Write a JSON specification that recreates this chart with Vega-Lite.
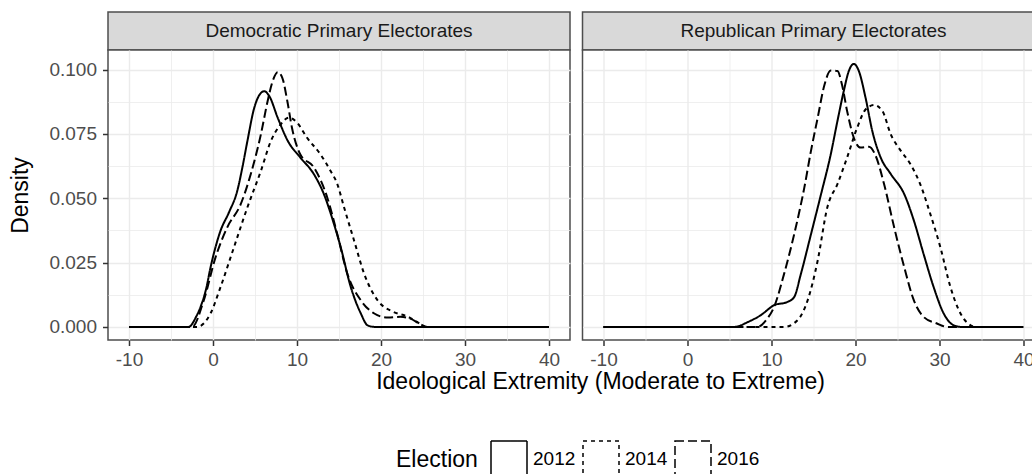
{
  "$schema": "https://vega.github.io/schema/vega-lite/v6.json",
  "padding": {"left": 9, "top": 11, "right": 0, "bottom": 0},
  "background": "white",
  "config": {
    "font": "Liberation Sans",
    "axis": {"labelFontSize": 19, "labelColor": "#4D4D4D", "titleFontSize": 23, "titleFontWeight": "normal", "titleColor": "black", "tickColor": "#333333", "tickWidth": 1.5, "tickSize": 5.5, "domain": false, "gridColor": "#EBEBEB", "labelOverlap": false, "labelFlush": false},
    "legend": {"labelFontSize": 19, "labelColor": "black", "titleFontSize": 23, "titleFontWeight": "normal", "titleColor": "black"}
  },
  "datasets": {
    "curves": [
      {"p":"D","yr":"2012","x":-10,"d":0},{"p":"D","yr":"2012","x":-2.9,"d":0},{"p":"D","yr":"2012","x":-2.0,"d":0.004},{"p":"D","yr":"2012","x":-1.4,"d":0.0085},{"p":"D","yr":"2012","x":-0.8,"d":0.015},{"p":"D","yr":"2012","x":-0.3,"d":0.023},{"p":"D","yr":"2012","x":0.3,"d":0.031},{"p":"D","yr":"2012","x":0.9,"d":0.0374},{"p":"D","yr":"2012","x":1.9,"d":0.0445},{"p":"D","yr":"2012","x":2.9,"d":0.053},{"p":"D","yr":"2012","x":3.5,"d":0.062},{"p":"D","yr":"2012","x":4.1,"d":0.0723},{"p":"D","yr":"2012","x":4.9,"d":0.085},{"p":"D","yr":"2012","x":5.5,"d":0.09},{"p":"D","yr":"2012","x":6.1,"d":0.0916},{"p":"D","yr":"2012","x":6.7,"d":0.0897},{"p":"D","yr":"2012","x":7.7,"d":0.0813},{"p":"D","yr":"2012","x":8.9,"d":0.0723},{"p":"D","yr":"2012","x":10.4,"d":0.0658},{"p":"D","yr":"2012","x":12.0,"d":0.0594},{"p":"D","yr":"2012","x":13.2,"d":0.0516},{"p":"D","yr":"2012","x":14.4,"d":0.04},{"p":"D","yr":"2012","x":15.2,"d":0.031},{"p":"D","yr":"2012","x":16.4,"d":0.0155},{"p":"D","yr":"2012","x":17.6,"d":0.0052},{"p":"D","yr":"2012","x":18.4,"d":0.0006},{"p":"D","yr":"2012","x":19.2,"d":0},{"p":"D","yr":"2012","x":40,"d":0},
      {"p":"D","yr":"2014","x":-10,"d":0},{"p":"D","yr":"2014","x":-1.9,"d":0},{"p":"D","yr":"2014","x":-0.3,"d":0.0052},{"p":"D","yr":"2014","x":0.9,"d":0.0155},{"p":"D","yr":"2014","x":2.5,"d":0.031},{"p":"D","yr":"2014","x":4.1,"d":0.0465},{"p":"D","yr":"2014","x":5.7,"d":0.0606},{"p":"D","yr":"2014","x":6.9,"d":0.0723},{"p":"D","yr":"2014","x":7.9,"d":0.078},{"p":"D","yr":"2014","x":9.05,"d":0.0813},{"p":"D","yr":"2014","x":10.0,"d":0.0794},{"p":"D","yr":"2014","x":11.2,"d":0.0735},{"p":"D","yr":"2014","x":12.8,"d":0.067},{"p":"D","yr":"2014","x":14.0,"d":0.0606},{"p":"D","yr":"2014","x":14.8,"d":0.0555},{"p":"D","yr":"2014","x":15.6,"d":0.0465},{"p":"D","yr":"2014","x":16.8,"d":0.0335},{"p":"D","yr":"2014","x":18.0,"d":0.0206},{"p":"D","yr":"2014","x":19.6,"d":0.0103},{"p":"D","yr":"2014","x":21.5,"d":0.0058},{"p":"D","yr":"2014","x":23.1,"d":0.0041},{"p":"D","yr":"2014","x":24.3,"d":0.0019},{"p":"D","yr":"2014","x":25.3,"d":0},{"p":"D","yr":"2014","x":40,"d":0},
      {"p":"D","yr":"2016","x":-10,"d":0},{"p":"D","yr":"2016","x":-2.5,"d":0},{"p":"D","yr":"2016","x":-1.1,"d":0.0103},{"p":"D","yr":"2016","x":0.3,"d":0.027},{"p":"D","yr":"2016","x":1.7,"d":0.0387},{"p":"D","yr":"2016","x":3.3,"d":0.0477},{"p":"D","yr":"2016","x":4.5,"d":0.0594},{"p":"D","yr":"2016","x":5.7,"d":0.0748},{"p":"D","yr":"2016","x":6.5,"d":0.0877},{"p":"D","yr":"2016","x":7.1,"d":0.0955},{"p":"D","yr":"2016","x":7.7,"d":0.099},{"p":"D","yr":"2016","x":8.25,"d":0.0968},{"p":"D","yr":"2016","x":8.85,"d":0.0877},{"p":"D","yr":"2016","x":9.4,"d":0.0774},{"p":"D","yr":"2016","x":10.4,"d":0.067},{"p":"D","yr":"2016","x":12.0,"d":0.062},{"p":"D","yr":"2016","x":13.6,"d":0.0503},{"p":"D","yr":"2016","x":14.8,"d":0.036},{"p":"D","yr":"2016","x":16.0,"d":0.0206},{"p":"D","yr":"2016","x":17.6,"d":0.0103},{"p":"D","yr":"2016","x":19.2,"d":0.0052},{"p":"D","yr":"2016","x":20.8,"d":0.0036},{"p":"D","yr":"2016","x":22.3,"d":0.0039},{"p":"D","yr":"2016","x":23.5,"d":0.0032},{"p":"D","yr":"2016","x":24.7,"d":0.001},{"p":"D","yr":"2016","x":25.5,"d":0},{"p":"D","yr":"2016","x":40,"d":0},
      {"p":"R","yr":"2012","x":-10,"d":0},{"p":"R","yr":"2012","x":5.6,"d":0},{"p":"R","yr":"2012","x":7.2,"d":0.0019},{"p":"R","yr":"2012","x":8.7,"d":0.0045},{"p":"R","yr":"2012","x":10.3,"d":0.0084},{"p":"R","yr":"2012","x":11.9,"d":0.0097},{"p":"R","yr":"2012","x":12.7,"d":0.0116},{"p":"R","yr":"2012","x":13.5,"d":0.0206},{"p":"R","yr":"2012","x":14.7,"d":0.036},{"p":"R","yr":"2012","x":15.9,"d":0.0516},{"p":"R","yr":"2012","x":17.05,"d":0.067},{"p":"R","yr":"2012","x":17.85,"d":0.08},{"p":"R","yr":"2012","x":18.6,"d":0.0916},{"p":"R","yr":"2012","x":19.2,"d":0.0994},{"p":"R","yr":"2012","x":19.8,"d":0.1022},{"p":"R","yr":"2012","x":20.4,"d":0.0994},{"p":"R","yr":"2012","x":21.2,"d":0.089},{"p":"R","yr":"2012","x":22.0,"d":0.0761},{"p":"R","yr":"2012","x":23.0,"d":0.0658},{"p":"R","yr":"2012","x":24.2,"d":0.0594},{"p":"R","yr":"2012","x":25.8,"d":0.0516},{"p":"R","yr":"2012","x":26.95,"d":0.0413},{"p":"R","yr":"2012","x":28.1,"d":0.0284},{"p":"R","yr":"2012","x":29.3,"d":0.0155},{"p":"R","yr":"2012","x":30.5,"d":0.0052},{"p":"R","yr":"2012","x":31.7,"d":0.0006},{"p":"R","yr":"2012","x":32.5,"d":0},{"p":"R","yr":"2012","x":40,"d":0},
      {"p":"R","yr":"2014","x":-10,"d":0},{"p":"R","yr":"2014","x":11.5,"d":0},{"p":"R","yr":"2014","x":13.1,"d":0.0026},{"p":"R","yr":"2014","x":14.3,"d":0.0103},{"p":"R","yr":"2014","x":15.5,"d":0.0258},{"p":"R","yr":"2014","x":16.65,"d":0.0465},{"p":"R","yr":"2014","x":17.85,"d":0.0555},{"p":"R","yr":"2014","x":19.0,"d":0.0658},{"p":"R","yr":"2014","x":20.2,"d":0.0774},{"p":"R","yr":"2014","x":21.2,"d":0.0845},{"p":"R","yr":"2014","x":22.2,"d":0.0862},{"p":"R","yr":"2014","x":23.2,"d":0.0839},{"p":"R","yr":"2014","x":24.2,"d":0.0748},{"p":"R","yr":"2014","x":25.4,"d":0.0684},{"p":"R","yr":"2014","x":26.55,"d":0.0632},{"p":"R","yr":"2014","x":27.7,"d":0.0555},{"p":"R","yr":"2014","x":28.9,"d":0.0439},{"p":"R","yr":"2014","x":30.1,"d":0.031},{"p":"R","yr":"2014","x":31.3,"d":0.0155},{"p":"R","yr":"2014","x":32.5,"d":0.0052},{"p":"R","yr":"2014","x":33.7,"d":0.0006},{"p":"R","yr":"2014","x":34.3,"d":0},{"p":"R","yr":"2014","x":40,"d":0},
      {"p":"R","yr":"2016","x":-10,"d":0},{"p":"R","yr":"2016","x":8.3,"d":0},{"p":"R","yr":"2016","x":9.5,"d":0.0032},{"p":"R","yr":"2016","x":10.3,"d":0.0077},{"p":"R","yr":"2016","x":11.5,"d":0.0206},{"p":"R","yr":"2016","x":12.7,"d":0.036},{"p":"R","yr":"2016","x":13.9,"d":0.054},{"p":"R","yr":"2016","x":14.7,"d":0.0684},{"p":"R","yr":"2016","x":15.5,"d":0.0813},{"p":"R","yr":"2016","x":16.3,"d":0.094},{"p":"R","yr":"2016","x":17.05,"d":0.0996},{"p":"R","yr":"2016","x":17.85,"d":0.0994},{"p":"R","yr":"2016","x":18.4,"d":0.094},{"p":"R","yr":"2016","x":19.0,"d":0.0839},{"p":"R","yr":"2016","x":19.8,"d":0.0735},{"p":"R","yr":"2016","x":20.6,"d":0.0697},{"p":"R","yr":"2016","x":21.6,"d":0.07},{"p":"R","yr":"2016","x":22.4,"d":0.0665},{"p":"R","yr":"2016","x":23.4,"d":0.0555},{"p":"R","yr":"2016","x":24.6,"d":0.0387},{"p":"R","yr":"2016","x":25.8,"d":0.0232},{"p":"R","yr":"2016","x":26.95,"d":0.0103},{"p":"R","yr":"2016","x":28.1,"d":0.0039},{"p":"R","yr":"2016","x":29.7,"d":0.0013},{"p":"R","yr":"2016","x":30.9,"d":0},{"p":"R","yr":"2016","x":40,"d":0}
    ]
  },
  "columns": 2,
  "spacing": {"row": 0, "column": 12.5},
  "bounds": "flush",
  "concat": [
    {
      "data": {"values": [{"label": "Democratic Primary Electorates"}]},
      "width": 462, "height": 38,
      "view": {"fill": "#D9D9D9", "stroke": "#4D4D4D", "strokeWidth": 1.5},
      "mark": {"type": "text", "fontSize": 19, "color": "#1A1A1A", "baseline": "middle"},
      "encoding": {"text": {"field": "label"}}
    },
    {
      "data": {"values": [{"label": "Republican Primary Electorates"}]},
      "width": 462, "height": 38,
      "view": {"fill": "#D9D9D9", "stroke": "#4D4D4D", "strokeWidth": 1.5},
      "mark": {"type": "text", "fontSize": 19, "color": "#1A1A1A", "baseline": "middle"},
      "encoding": {"text": {"field": "label"}}
    },
    {
      "data": {"name": "curves"},
      "transform": [{"filter": "datum.p === 'D'"}],
      "width": 462, "height": 290,
      "view": {"fill": "white", "stroke": "#4D4D4D", "strokeWidth": 1.5},
      "mark": {"type": "line", "color": "black", "strokeWidth": 2, "interpolate": "monotone"},
      "encoding": {
        "x": {"field": "x", "type": "quantitative", "scale": {"domain": [-12.5, 42.5], "nice": false, "zero": false},
          "axis": {"values": [-10,-5,0,5,10,15,20,25,30,35,40], "labelExpr": "datum.value % 10 === 0 ? toString(datum.value) : ''",
            "tickOpacity": {"condition": {"test": "datum.value % 10 !== 0", "value": 0}, "value": 1},
            "gridWidth": {"condition": {"test": "datum.value % 10 !== 0", "value": 0.8}, "value": 1.4},
            "labelPadding": 5, "title": "Ideological Extremity (Moderate to Extreme)", "titleX": 492, "titleAlign": "center", "titlePadding": 1}},
        "y": {"field": "d", "type": "quantitative", "scale": {"domain": [-0.0051, 0.1076], "nice": false, "zero": false},
          "axis": {"values": [0,0.0125,0.025,0.0375,0.05,0.0625,0.075,0.0875,0.1], "labelExpr": "abs(datum.value*40 - round(datum.value*40)) < 0.001 ? format(datum.value, '.3f') : ''",
            "tickOpacity": {"condition": {"test": "abs(datum.value*40 - round(datum.value*40)) > 0.001", "value": 0}, "value": 1},
            "gridWidth": {"condition": {"test": "abs(datum.value*40 - round(datum.value*40)) > 0.001", "value": 0.8}, "value": 1.4},
            "labelPadding": 6, "title": "Density", "titlePadding": 16}},
        "strokeDash": {"field": "yr", "type": "nominal",
          "scale": {"domain": ["2012","2014","2016"], "range": [[1,0],[4,4],[9,4]]},
          "legend": {"title": "Election", "orient": "none", "legendX": 288, "legendY": 428, "direction": "horizontal", "titleOrient": "left", "titlePadding": 12,
            "symbolType": "square", "symbolSize": 1296, "symbolFillColor": "white", "symbolStrokeColor": "black", "symbolStrokeWidth": 1.5, "labelOffset": 5, "columnPadding": 4}}
      }
    },
    {
      "data": {"name": "curves"},
      "transform": [{"filter": "datum.p === 'R'"}],
      "width": 462, "height": 290,
      "view": {"fill": "white", "stroke": "#4D4D4D", "strokeWidth": 1.5},
      "mark": {"type": "line", "color": "black", "strokeWidth": 2, "interpolate": "monotone"},
      "encoding": {
        "x": {"field": "x", "type": "quantitative", "scale": {"domain": [-12.5, 42.5], "nice": false, "zero": false},
          "axis": {"values": [-10,-5,0,5,10,15,20,25,30,35,40], "labelExpr": "datum.value % 10 === 0 ? toString(datum.value) : ''",
            "tickOpacity": {"condition": {"test": "datum.value % 10 !== 0", "value": 0}, "value": 1},
            "gridWidth": {"condition": {"test": "datum.value % 10 !== 0", "value": 0.8}, "value": 1.4},
            "labelPadding": 5, "title": null}},
        "y": {"field": "d", "type": "quantitative", "scale": {"domain": [-0.0051, 0.1076], "nice": false, "zero": false},
          "axis": {"values": [0,0.0125,0.025,0.0375,0.05,0.0625,0.075,0.0875,0.1], "labels": false, "ticks": false, "title": null,
            "gridWidth": {"condition": {"test": "abs(datum.value*40 - round(datum.value*40)) > 0.001", "value": 0.8}, "value": 1.4}}},
        "strokeDash": {"field": "yr", "type": "nominal",
          "scale": {"domain": ["2012","2014","2016"], "range": [[1,0],[4,4],[9,4]]}}
      }
    }
  ]
}
